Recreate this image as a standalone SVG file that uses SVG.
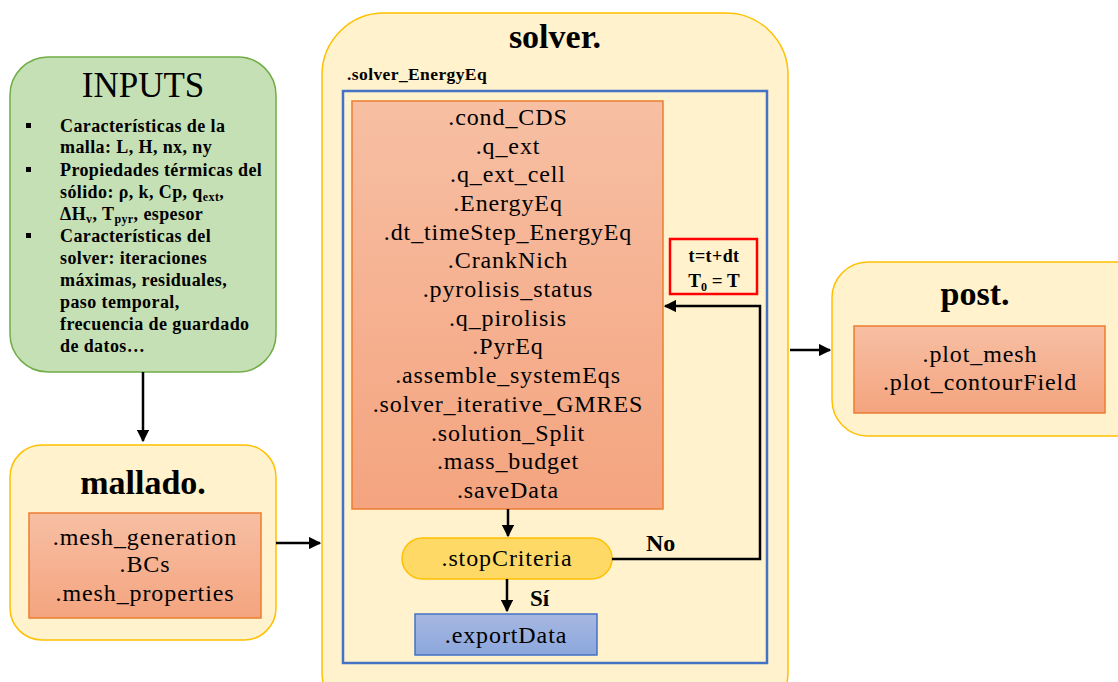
<svg xmlns="http://www.w3.org/2000/svg" width="1118" height="682" viewBox="0 0 1118 682">
<defs>
<linearGradient id="og" x1="0" y1="0" x2="0" y2="1"><stop offset="0" stop-color="#f7bfa3"/><stop offset="1" stop-color="#f4a47f"/></linearGradient>
<linearGradient id="bg" x1="0" y1="0" x2="0" y2="1"><stop offset="0" stop-color="#a7b8e2"/><stop offset="1" stop-color="#8ca7dc"/></linearGradient>
<marker id="ah" viewBox="0 0 10 10" refX="9" refY="5" markerWidth="5" markerHeight="5" orient="auto-start-reverse" markerUnits="strokeWidth"><path d="M0,0 L10,5 L0,10 z" fill="#000"/></marker>
<style>
text{font-family:"Liberation Serif","DejaVu Serif",serif;fill:#000}
.cont{fill:#fff2cc;stroke:#ffc000;stroke-width:1.5}
.org{fill:url(#og);stroke:#ed7d31;stroke-width:1.5}
.ttl{font-size:34px;font-weight:bold;text-anchor:middle}
.fn{font-size:24px;letter-spacing:0.9px;text-anchor:middle}
.bl{font-size:18px;font-weight:bold;letter-spacing:0.4px}
.conn{stroke:#000;stroke-width:2.5;fill:none}
</style>
</defs>

<g id="inputs">
<rect x="10" y="57" width="266" height="315" rx="38" fill="#c5e0b4" stroke="#70ad47" stroke-width="1.5"/>
<text x="143" y="97" font-size="35" text-anchor="middle">INPUTS</text>
<g class="bl">
<rect x="26" y="123" width="5" height="5"/><rect x="26" y="167" width="5" height="5"/><rect x="26" y="233" width="5" height="5"/>
<text x="60" y="132">Características de la</text>
<text x="60" y="153">malla: L, H, nx, ny</text>
<text x="60" y="176">Propiedades térmicas del</text>
<text x="60" y="198">sólido: ρ, k, Cp, q<tspan font-size="12" dy="3">ext</tspan><tspan dy="-3">,</tspan></text>
<text x="60" y="220">ΔH<tspan font-size="12" dy="3">v</tspan><tspan dy="-3">, T</tspan><tspan font-size="12" dy="3">pyr</tspan><tspan dy="-3">, espesor</tspan></text>
<text x="60" y="242">Características del</text>
<text x="60" y="264">solver: iteraciones</text>
<text x="60" y="286">máximas, residuales,</text>
<text x="60" y="308">paso temporal,</text>
<text x="60" y="330">frecuencia de guardado</text>
<text x="60" y="352">de datos…</text>
</g>
</g>

<g id="mallado">
<rect class="cont" x="10" y="445" width="266" height="195" rx="32"/>
<text class="ttl" x="143" y="494">mallado.</text>
<rect class="org" x="29" y="513" width="232" height="105"/>
<text class="fn" x="145" y="545">.mesh_generation</text>
<text class="fn" x="145" y="572">.BCs</text>
<text class="fn" x="145" y="601">.mesh_properties</text>
</g>

<g id="solver">
<rect class="cont" x="322" y="13" width="466" height="720" rx="62"/>
<text class="ttl" x="555" y="48">solver.</text>
<text x="347" y="80" font-size="17.5" font-weight="bold" letter-spacing="0.4">.solver_EnergyEq</text>
<rect x="343" y="91" width="424" height="572" fill="none" stroke="#4472c4" stroke-width="2.5"/>
</g>

<g id="energy">
<rect class="org" x="352" y="101" width="311" height="408"/>
<text class="fn" x="508" y="125">.cond_CDS</text>
<text class="fn" x="508" y="154">.q_ext</text>
<text class="fn" x="508" y="182">.q_ext_cell</text>
<text class="fn" x="508" y="211">.EnergyEq</text>
<text class="fn" x="508" y="240">.dt_timeStep_EnergyEq</text>
<text class="fn" x="508" y="268">.CrankNich</text>
<text class="fn" x="508" y="297">.pyrolisis_status</text>
<text class="fn" x="508" y="326">.q_pirolisis</text>
<text class="fn" x="508" y="354">.PyrEq</text>
<text class="fn" x="508" y="383">.assemble_systemEqs</text>
<text class="fn" x="508" y="412">.solver_iterative_GMRES</text>
<text class="fn" x="508" y="441">.solution_Split</text>
<text class="fn" x="508" y="469">.mass_budget</text>
<text class="fn" x="508" y="498">.saveData</text>
</g>

<g id="timestep">
<rect x="670" y="239" width="87" height="55" fill="#fff2cc" stroke="#ff0000" stroke-width="2.5"/>
<text x="714" y="262" font-size="18" font-weight="bold" letter-spacing="0.4" text-anchor="middle">t=t+dt</text>
<text x="714" y="287" font-size="19" font-weight="bold" text-anchor="middle">T<tspan font-size="12" dy="4">0</tspan><tspan dy="-4"> = T</tspan></text>
</g>

<g id="stopCriteria">
<rect x="402" y="538" width="210" height="41" rx="20.5" fill="#ffd966" stroke="#ffc000" stroke-width="1.5"/>
<text class="fn" x="507" y="566">.stopCriteria</text>
</g>

<g id="exportData">
<rect x="415" y="614" width="182" height="41" fill="url(#bg)" stroke="#4472c4" stroke-width="1.5"/>
<text class="fn" x="506" y="643">.exportData</text>
</g>

<g id="post">
<rect class="cont" x="832" y="262" width="320" height="174" rx="36"/>
<text class="ttl" x="975" y="305">post.</text>
<rect class="org" x="854" y="326" width="251" height="87"/>
<text class="fn" x="980" y="362">.plot_mesh</text>
<text class="fn" x="980" y="390">.plot_contourField</text>
</g>

<g id="connectors">
<path class="conn" d="M143,372 V441" marker-end="url(#ah)"/>
<path class="conn" d="M276,543 H320" marker-end="url(#ah)"/>
<path class="conn" d="M790,350 H830" marker-end="url(#ah)"/>
<path class="conn" d="M508,509 V536" marker-end="url(#ah)"/>
<path class="conn" d="M507,579 V611" marker-end="url(#ah)"/>
<path class="conn" d="M612,559 H760 V306 H665" marker-end="url(#ah)"/>
<text x="646" y="551" font-size="24" font-weight="bold">No</text>
<text x="530" y="606" font-size="23" font-weight="bold">Sí</text>
</g>
</svg>
